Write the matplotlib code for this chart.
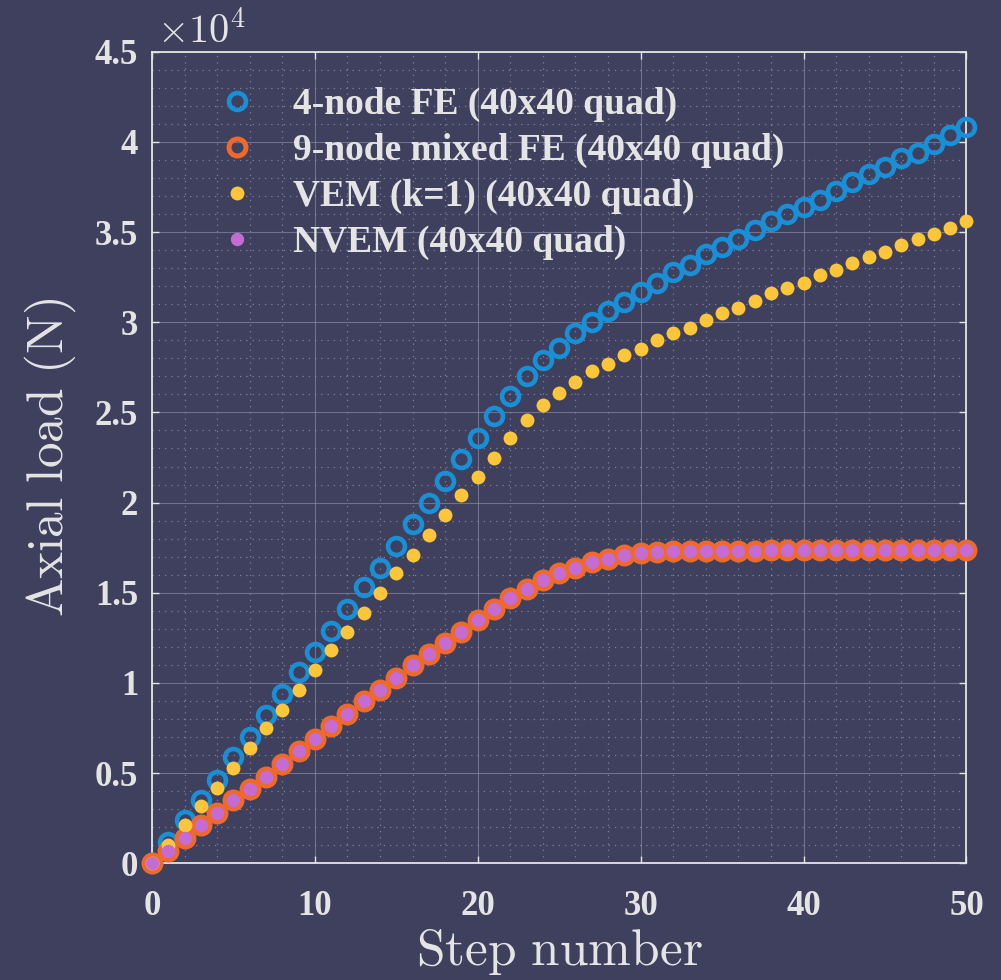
import matplotlib
matplotlib.use("Agg")
import matplotlib.pyplot as plt
import numpy as np
from matplotlib.ticker import MultipleLocator

# data (axial load in units of 1e4 N)
steps = np.arange(0, 51)
fe4 = [0, 0.12, 0.24, 0.35, 0.46, 0.59, 0.70, 0.82, 0.94, 1.06, 1.17,
       1.29, 1.41, 1.53, 1.64, 1.76, 1.88, 2.00, 2.12, 2.24, 2.36,
       2.48, 2.59, 2.70, 2.79, 2.86, 2.94, 3.00, 3.06, 3.11, 3.17,
       3.22, 3.28, 3.32, 3.38, 3.42, 3.46, 3.51, 3.56, 3.60, 3.64,
       3.68, 3.73, 3.78, 3.82, 3.86, 3.91, 3.94, 3.99, 4.04, 4.08]
fe9 = [0, 0.07, 0.14, 0.21, 0.28, 0.35, 0.41, 0.48, 0.55, 0.62, 0.69,
       0.76, 0.83, 0.90, 0.96, 1.03, 1.10, 1.16, 1.22, 1.28, 1.35,
       1.41, 1.47, 1.52, 1.57, 1.61, 1.64, 1.67, 1.69, 1.71, 1.72,
       1.725, 1.73, 1.73, 1.73, 1.73, 1.73, 1.73, 1.735, 1.735, 1.735,
       1.735, 1.735, 1.735, 1.735, 1.735, 1.735, 1.735, 1.735, 1.735, 1.735]
vem = [0, 0.10, 0.21, 0.32, 0.42, 0.53, 0.64, 0.75, 0.85, 0.96, 1.07,
       1.18, 1.28, 1.39, 1.50, 1.61, 1.71, 1.82, 1.93, 2.04, 2.14,
       2.25, 2.36, 2.46, 2.54, 2.61, 2.67, 2.73, 2.77, 2.82, 2.85,
       2.90, 2.94, 2.97, 3.01, 3.05, 3.08, 3.12, 3.16, 3.19, 3.22,
       3.26, 3.29, 3.33, 3.36, 3.39, 3.43, 3.46, 3.49, 3.52, 3.56]
nvem = [0, 0.07, 0.14, 0.21, 0.28, 0.35, 0.41, 0.48, 0.55, 0.62, 0.69,
        0.76, 0.83, 0.90, 0.96, 1.03, 1.10, 1.16, 1.22, 1.28, 1.35,
        1.41, 1.47, 1.52, 1.57, 1.61, 1.64, 1.67, 1.69, 1.71, 1.72,
        1.725, 1.73, 1.73, 1.73, 1.73, 1.73, 1.73, 1.735, 1.735, 1.735,
        1.735, 1.735, 1.735, 1.735, 1.735, 1.735, 1.735, 1.735, 1.735, 1.735]
labels = ['4-node FE (40x40 quad)', '9-node mixed FE (40x40 quad)',
          'VEM (k=1) (40x40 quad)', 'NVEM (40x40 quad)']
scale = 1e4

bg = '#3e405e'
fg = '#e4e4e4'
c_blue = '#1a8fd6'
c_orange = '#ee6a2c'
c_yellow = '#fcc53a'
c_purple = '#c46cd4'

plt.rcParams['mathtext.fontset'] = 'cm'

fig = plt.figure(figsize=(10.01, 9.8), dpi=100, facecolor=bg)
ax = fig.add_axes([0.1518, 0.1191, 0.8137, 0.8281], facecolor=bg)

y1 = np.array(fe4) * scale
y2 = np.array(fe9) * scale
y3 = np.array(vem) * scale
y4 = np.array(nvem) * scale

ax.plot(steps, y1, 'o', ms=12.2, mfc='none', mec=c_blue, mew=3.3,
        label=labels[0], clip_on=False, zorder=3)
ax.plot(steps, y2, 'o', ms=12.2, mfc='none', mec=c_orange, mew=3.6,
        label=labels[1], clip_on=False, zorder=4)
ax.plot(steps, y3, 'o', ms=10.0, mfc=c_yellow, mec='none',
        label=labels[2], clip_on=False, zorder=5)
ax.plot(steps, y4, 'o', ms=9.6, mfc=c_purple, mec='none',
        label=labels[3], clip_on=False, zorder=6)

ax.set_xlim(0, 50)
ax.set_ylim(0, 4.5e4)
ax.xaxis.set_minor_locator(MultipleLocator(2))
ax.yaxis.set_minor_locator(MultipleLocator(1000))
ax.set_xticks(np.arange(0, 51, 10))
ax.set_xticklabels([str(v) for v in range(0, 51, 10)])
yt = np.arange(0, 45001, 5000)
ax.set_yticks(yt)
ax.set_yticklabels(['%g' % (v / scale) for v in yt])

for lbl in ax.get_xticklabels() + ax.get_yticklabels():
    lbl.set_fontfamily('Liberation Serif')
    lbl.set_fontweight('bold')
    lbl.set_fontsize(25)
    lbl.set_color(fg)

ax.tick_params(which='major', direction='in', length=5, width=1,
               color=fg, top=True, right=True, pad=10)
ax.tick_params(axis='x', which='major', pad=19)
ax.tick_params(which='minor', length=0)

ax.grid(which='major', color='#8a8ca8', lw=0.8, alpha=0.65)
ax.grid(which='minor', color='#9a9cb4', lw=0.9, alpha=0.7,
        linestyle=(0, (1, 4)))
ax.set_axisbelow(True)

for s in ax.spines.values():
    s.set_color(fg)
    s.set_linewidth(1.3)

ax.set_xlabel(r'$\mathrm{Step\ number}$', fontsize=37, color=fg, labelpad=3)
ax.set_ylabel(r'$\mathrm{Axial\ load\ (N)}$', fontsize=37, color=fg, labelpad=12)

ax.text(0.006, 1.0107, r'$\times10^4$', transform=ax.transAxes, fontsize=29,
        color=fg, ha='left', va='baseline')

leg = ax.legend(loc='upper left', bbox_to_anchor=(0.0626, 0.975),
                frameon=False, handlelength=1.0, handletextpad=0.99,
                labelspacing=0.29, borderaxespad=0,
                prop={'family': 'Liberation Serif', 'weight': 'bold', 'size': 27})
for t in leg.get_texts():
    t.set_color(fg)

fig.savefig('out.png', dpi=100, facecolor=bg)
